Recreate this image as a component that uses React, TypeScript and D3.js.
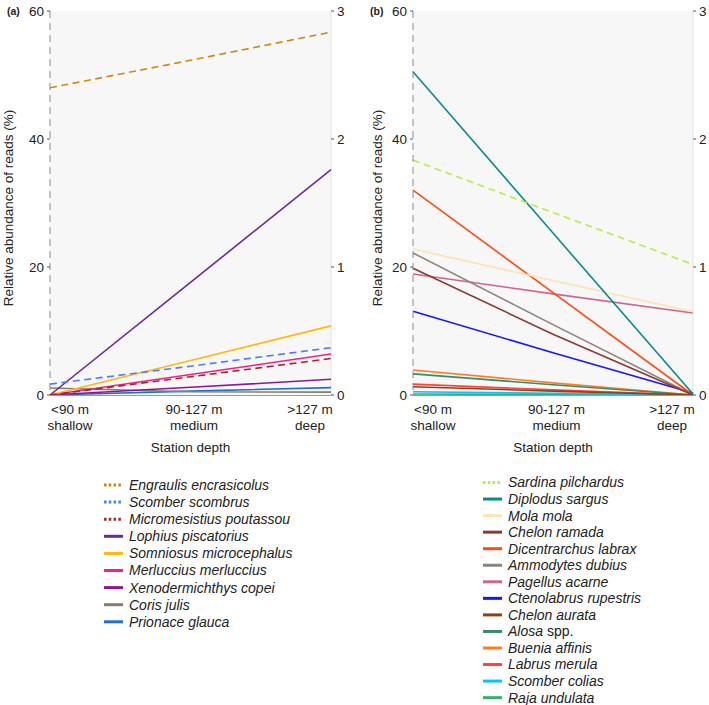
import React from 'react'
import * as d3 from 'd3'

// station depth categories
const depthRanges = ['<90 m', '90-127 m', '>127 m']
const depthNames = ['shallow', 'medium', 'deep']

// panel (a): species increasing with depth, values = [shallow, medium, deep]
const speciesA = [
  'Engraulis encrasicolus',
  'Scomber scombrus',
  'Micromesistius poutassou',
  'Lophius piscatorius',
  'Somniosus microcephalus',
  'Merluccius merluccius',
  'Xenodermichthys copei',
  'Coris julis',
  'Prionace glauca',
]
const valuesA = [
  [48, 52.3, 56.7],
  [1.7, 4.5, 7.4],
  [0, 2.85, 5.7],
  [0, 17.6, 35.2],
  [0, 5.4, 10.8],
  [0, 3.2, 6.4],
  [0, 1.2, 2.45],
  [1.1, 0.5, 0.45],
  [0, 0.6, 1.15],
]
const dashedA = [true, true, true, false, false, false, false, false, false]
const colorsA = ['#c98a0c', '#4d7dff', '#9e2a2b', '#6b2b93', '#ffb80f', '#f2208c', '#8d1a8d', '#8b7d6e', '#1f6fd2']

// panel (b): species decreasing with depth
const speciesB = [
  'Sardina pilchardus',
  'Diplodus sargus',
  'Mola mola',
  'Chelon ramada',
  'Dicentrarchus labrax',
  'Ammodytes dubius',
  'Pagellus acarne',
  'Ctenolabrus rupestris',
  'Chelon aurata',
  'Alosa spp.',
  'Buenia affinis',
  'Labrus merula',
  'Scomber colias',
  'Raja undulata',
]
const valuesB = [
  [36.7, 28.5, 20.4],
  [50.5, 25.3, 0.15],
  [22.8, 17.9, 13.0],
  [19.8, 9.5, 0],
  [32, 16, 0],
  [22.2, 11.0, 0],
  [18.9, 15.8, 12.8],
  [13.1, 6.6, 0.3],
  [1.3, 0.6, 0],
  [3.3, 1.6, 0],
  [3.9, 1.9, 0],
  [1.7, 0.8, 0],
  [0.5, 0.25, 0],
  [0.15, 0.07, 0],
]
const dashedB = [true, false, false, false, false, false, false, false, false, false, false, false, false, false]
const colorsB = ['#b5ec4a', '#0a8b8b', '#ffe2ae', '#8b3a32', '#ff4a10', '#8b847c', '#cf6490', '#1414ff', '#8b4513', '#3a8a6a', '#ff7d22', '#ff4242', '#10bfff', '#36b06c']

const leftTicks = [0, 20, 40, 60]
const rightTicks = [0, 1, 2, 3]

const FONT = "'Liberation Sans', Arial, sans-serif"

function Panel({ label, species, values, dashed, colors, x0, x1, titleX, legendX, legendY, legendStep }) {
  const top = 11
  const bottom = 395
  const x = d3.scalePoint().domain(depthRanges).range([x0, x1])
  const y = d3.scaleLinear().domain([0, 60]).range([bottom, top])
  const yR = d3.scaleLinear().domain([0, 3]).range([bottom, top])
  const line = d3
    .line()
    .x((d, i) => x(depthRanges[i]))
    .y((d) => y(d))
  const labelOffset = [20, 3.5, -21]
  const order = d3.range(species.length).reverse()

  return (
    <g fontFamily={FONT}>
      <rect x={x0} y={top} width={x1 - x0} height={bottom - top} fill="#f7f7f7" />
      <line x1={x1} x2={x1} y1={top} y2={bottom} stroke="#e2e2e2" />
      <text x={x0 - 43} y={top} dy="0.35em" fontSize={10.5} fontWeight="bold" fill="#222">
        {label}
      </text>

      {order.map((i) => (
        <path
          key={species[i]}
          d={line(values[i])}
          fill="none"
          stroke={colors[i]}
          strokeWidth={1.6}
          strokeDasharray={dashed[i] ? '7,4.5' : null}
        />
      ))}

      <line x1={x0} x2={x0} y1={top} y2={bottom} stroke="#8a8a8a" strokeWidth={1} strokeDasharray="7,5" />
      <line x1={x0} x2={x1} y1={bottom + 0.5} y2={bottom + 0.5} stroke="#9a9a9a" strokeWidth={1} />

      {leftTicks.map((t) => (
        <g key={'l' + t}>
          <line x1={x0 - 3} x2={x0} y1={y(t)} y2={y(t)} stroke="#555" />
          <text x={x0 - 6} y={y(t)} dy="0.35em" textAnchor="end" fontSize={13.5} fill="#222">
            {t}
          </text>
        </g>
      ))}
      {rightTicks.map((t) => (
        <g key={'r' + t}>
          <line x1={x1} x2={x1 + 3} y1={yR(t)} y2={yR(t)} stroke="#555" />
          <text x={x1 + 6} y={yR(t)} dy="0.35em" fontSize={13.5} fill="#222">
            {t}
          </text>
        </g>
      ))}

      {depthRanges.map((c, i) => (
        <text key={c} x={x(c) + labelOffset[i]} y={409} dy="0.35em" textAnchor="middle" fontSize={13.5} fill="#222">
          <tspan x={x(c) + labelOffset[i]}>{c}</tspan>
          <tspan x={x(c) + labelOffset[i]} dy={16}>
            {depthNames[i]}
          </tspan>
        </text>
      ))}
      <text x={(x0 + x1) / 2} y={447} dy="0.35em" textAnchor="middle" fontSize={13.5} fill="#222">
        Station depth
      </text>
      <text
        transform={`translate(${titleX},${(top + bottom) / 2 + 5}) rotate(-90)`}
        textAnchor="middle"
        dy="0.35em"
        fontSize={13.5}
        fill="#222"
      >
        Relative abundance of reads (%)
      </text>

      {species.map((s, i) => {
        const ly = legendY + i * legendStep
        const isAlosa = s === 'Alosa spp.'
        return (
          <g key={'lg' + s}>
            <line
              x1={legendX}
              x2={legendX + 19}
              y1={ly}
              y2={ly}
              stroke={colors[i]}
              strokeWidth={3}
              strokeDasharray={dashed[i] ? '2.5,2.3' : null}
            />
            <text x={legendX + 25} y={ly} dy="0.35em" fontSize={14} fill="#222">
              {isAlosa ? (
                <>
                  <tspan fontStyle="italic">Alosa</tspan> spp.
                </>
              ) : (
                <tspan fontStyle="italic">{s}</tspan>
              )}
            </text>
          </g>
        )
      })}
    </g>
  )
}

export default function App() {
  return (
    <svg
      width={709}
      height={705}
      style={{ position: 'absolute', left: 0, top: 0, background: '#fff' }}
    >
      <Panel
        label="(a)"
        species={speciesA}
        values={valuesA}
        dashed={dashedA}
        colors={colorsA}
        x0={50}
        x1={331}
        titleX={8}
        legendX={104}
        legendY={485}
        legendStep={17.1}
      />
      <Panel
        label="(b)"
        species={speciesB}
        values={valuesB}
        dashed={dashedB}
        colors={colorsB}
        x0={413}
        x1={693}
        titleX={377}
        legendX={483}
        legendY={482.5}
        legendStep={16.55}
      />
    </svg>
  )
}
